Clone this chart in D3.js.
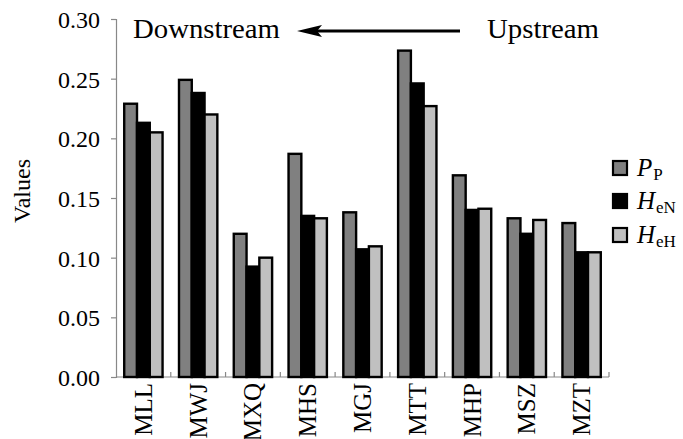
<!DOCTYPE html>
<html><head><meta charset="utf-8">
<script src="https://cdn.jsdelivr.net/npm/d3@7"></script>
<style>body{margin:0;background:#fff}svg{display:block}</style>
</head><body>
<svg id="c" width="683" height="439" font-family="Liberation Serif"></svg>
<script>
const categories = ["MLL","MWJ","MXQ","MHS","MGJ","MTT","MHP","MSZ","MZT"];
const seriesKeys = ["PP","HeN","HeH"];
const PP  = [0.229,0.249,0.120,0.187,0.138,0.2735,0.169,0.133,0.129];
const HeN = [0.213,0.238,0.0925,0.135,0.107,0.246,0.140,0.120,0.1045];
const HeH = [0.205,0.220,0.100,0.133,0.1095,0.227,0.141,0.1316,0.1045];
const yTicks = [0,0.05,0.10,0.15,0.20,0.25,0.30];
const colors = {PP:"#808080",HeN:"#000000",HeH:"#c0c0c0"};
const legendItems = [["P","P","PP"],["H","eN","HeN"],["H","eH","HeH"]];
const FONT = "Liberation Serif";

const svg = d3.select("#c");
const mLeft=116, mRight=609, mTop=19, mBottom=377;
const y = d3.scaleLinear().domain([0,0.30]).range([mBottom,mTop]);
const x0 = d3.scaleBand().domain(categories).range([mLeft,mRight]).padding(0);
const bw = x0.bandwidth();
const x1 = d3.scaleBand().domain(seriesKeys).range([bw*0.15,bw*0.85]).padding(0);
const vals = {PP,HeN,HeH};

// axes
const yAx = svg.append("g").attr("transform",`translate(${mLeft},0)`)
  .call(d3.axisLeft(y).tickValues(yTicks).tickFormat(d3.format(".2f")).tickSizeOuter(0).tickSize(5).tickPadding(11));
yAx.attr("font-family",FONT).attr("font-size",24);
yAx.selectAll("path,line").attr("stroke","#888").attr("stroke-width",1.2);
yAx.selectAll("text").attr("font-family",FONT).attr("font-size",24).attr("fill","#000").attr("dy","0.35em");

const xAx = svg.append("g").attr("transform",`translate(0,${mBottom})`);
xAx.append("line").attr("x1",mLeft).attr("x2",mRight).attr("stroke","#888").attr("stroke-width",1.2);
xAx.selectAll("line.t").data(categories).join("line").attr("class","t")
  .attr("x1",d=>x0(d)+bw).attr("x2",d=>x0(d)+bw)
  .attr("y1",0).attr("y2",-5).attr("stroke","#888").attr("stroke-width",1.2);
xAx.selectAll("text").data(categories).join("text")
  .attr("transform",d=>`translate(${x0(d)+bw/2+8.5},6) rotate(-90)`)
  .attr("text-anchor","end").attr("font-family",FONT).attr("font-size",25).text(d=>d);

// bars
const g = svg.append("g");
categories.forEach((c,i)=>{
  seriesKeys.forEach(k=>{
    g.append("rect").attr("x",x0(c)+x1(k)).attr("width",x1.bandwidth())
      .attr("y",y(vals[k][i])).attr("height",y(0)-y(vals[k][i]))
      .attr("fill",colors[k]).attr("stroke","#000").attr("stroke-width",2.4);
  });
});

// y title
svg.append("text").attr("transform","translate(30,191) rotate(-90)")
  .attr("text-anchor","middle").attr("font-family",FONT).attr("font-size",24).text("Values");

// annotation
svg.append("text").attr("x",133).attr("y",38).attr("font-family",FONT).attr("font-size",27)
  .attr("textLength",147).attr("lengthAdjust","spacingAndGlyphs").text("Downstream");
svg.append("text").attr("x",487).attr("y",38).attr("font-family",FONT).attr("font-size",27)
  .attr("textLength",112).attr("lengthAdjust","spacingAndGlyphs").text("Upstream");
svg.append("line").attr("x1",460).attr("x2",312).attr("y1",31).attr("y2",31).attr("stroke","#000").attr("stroke-width",3);
svg.append("path").attr("d","M297,31 L322,25 L317,31 L322,37 Z").attr("fill","#000");

// legend
const lg = svg.append("g");
const legendY = [168,201,235];
legendItems.forEach((it,i)=>{
  const cy = legendY[i];
  lg.append("rect").attr("x",613).attr("y",cy-7).attr("width",14).attr("height",14)
    .attr("fill",colors[it[2]]).attr("stroke","#000").attr("stroke-width",2.2);
  const t = lg.append("text").attr("x",637).attr("y",cy+8).attr("font-family",FONT).attr("font-size",25);
  t.append("tspan").attr("font-style","italic").text(it[0]);
  t.append("tspan").attr("font-size",17).attr("dy",4).attr("dx",1).text(it[1]);
});
</script>
</body></html>
